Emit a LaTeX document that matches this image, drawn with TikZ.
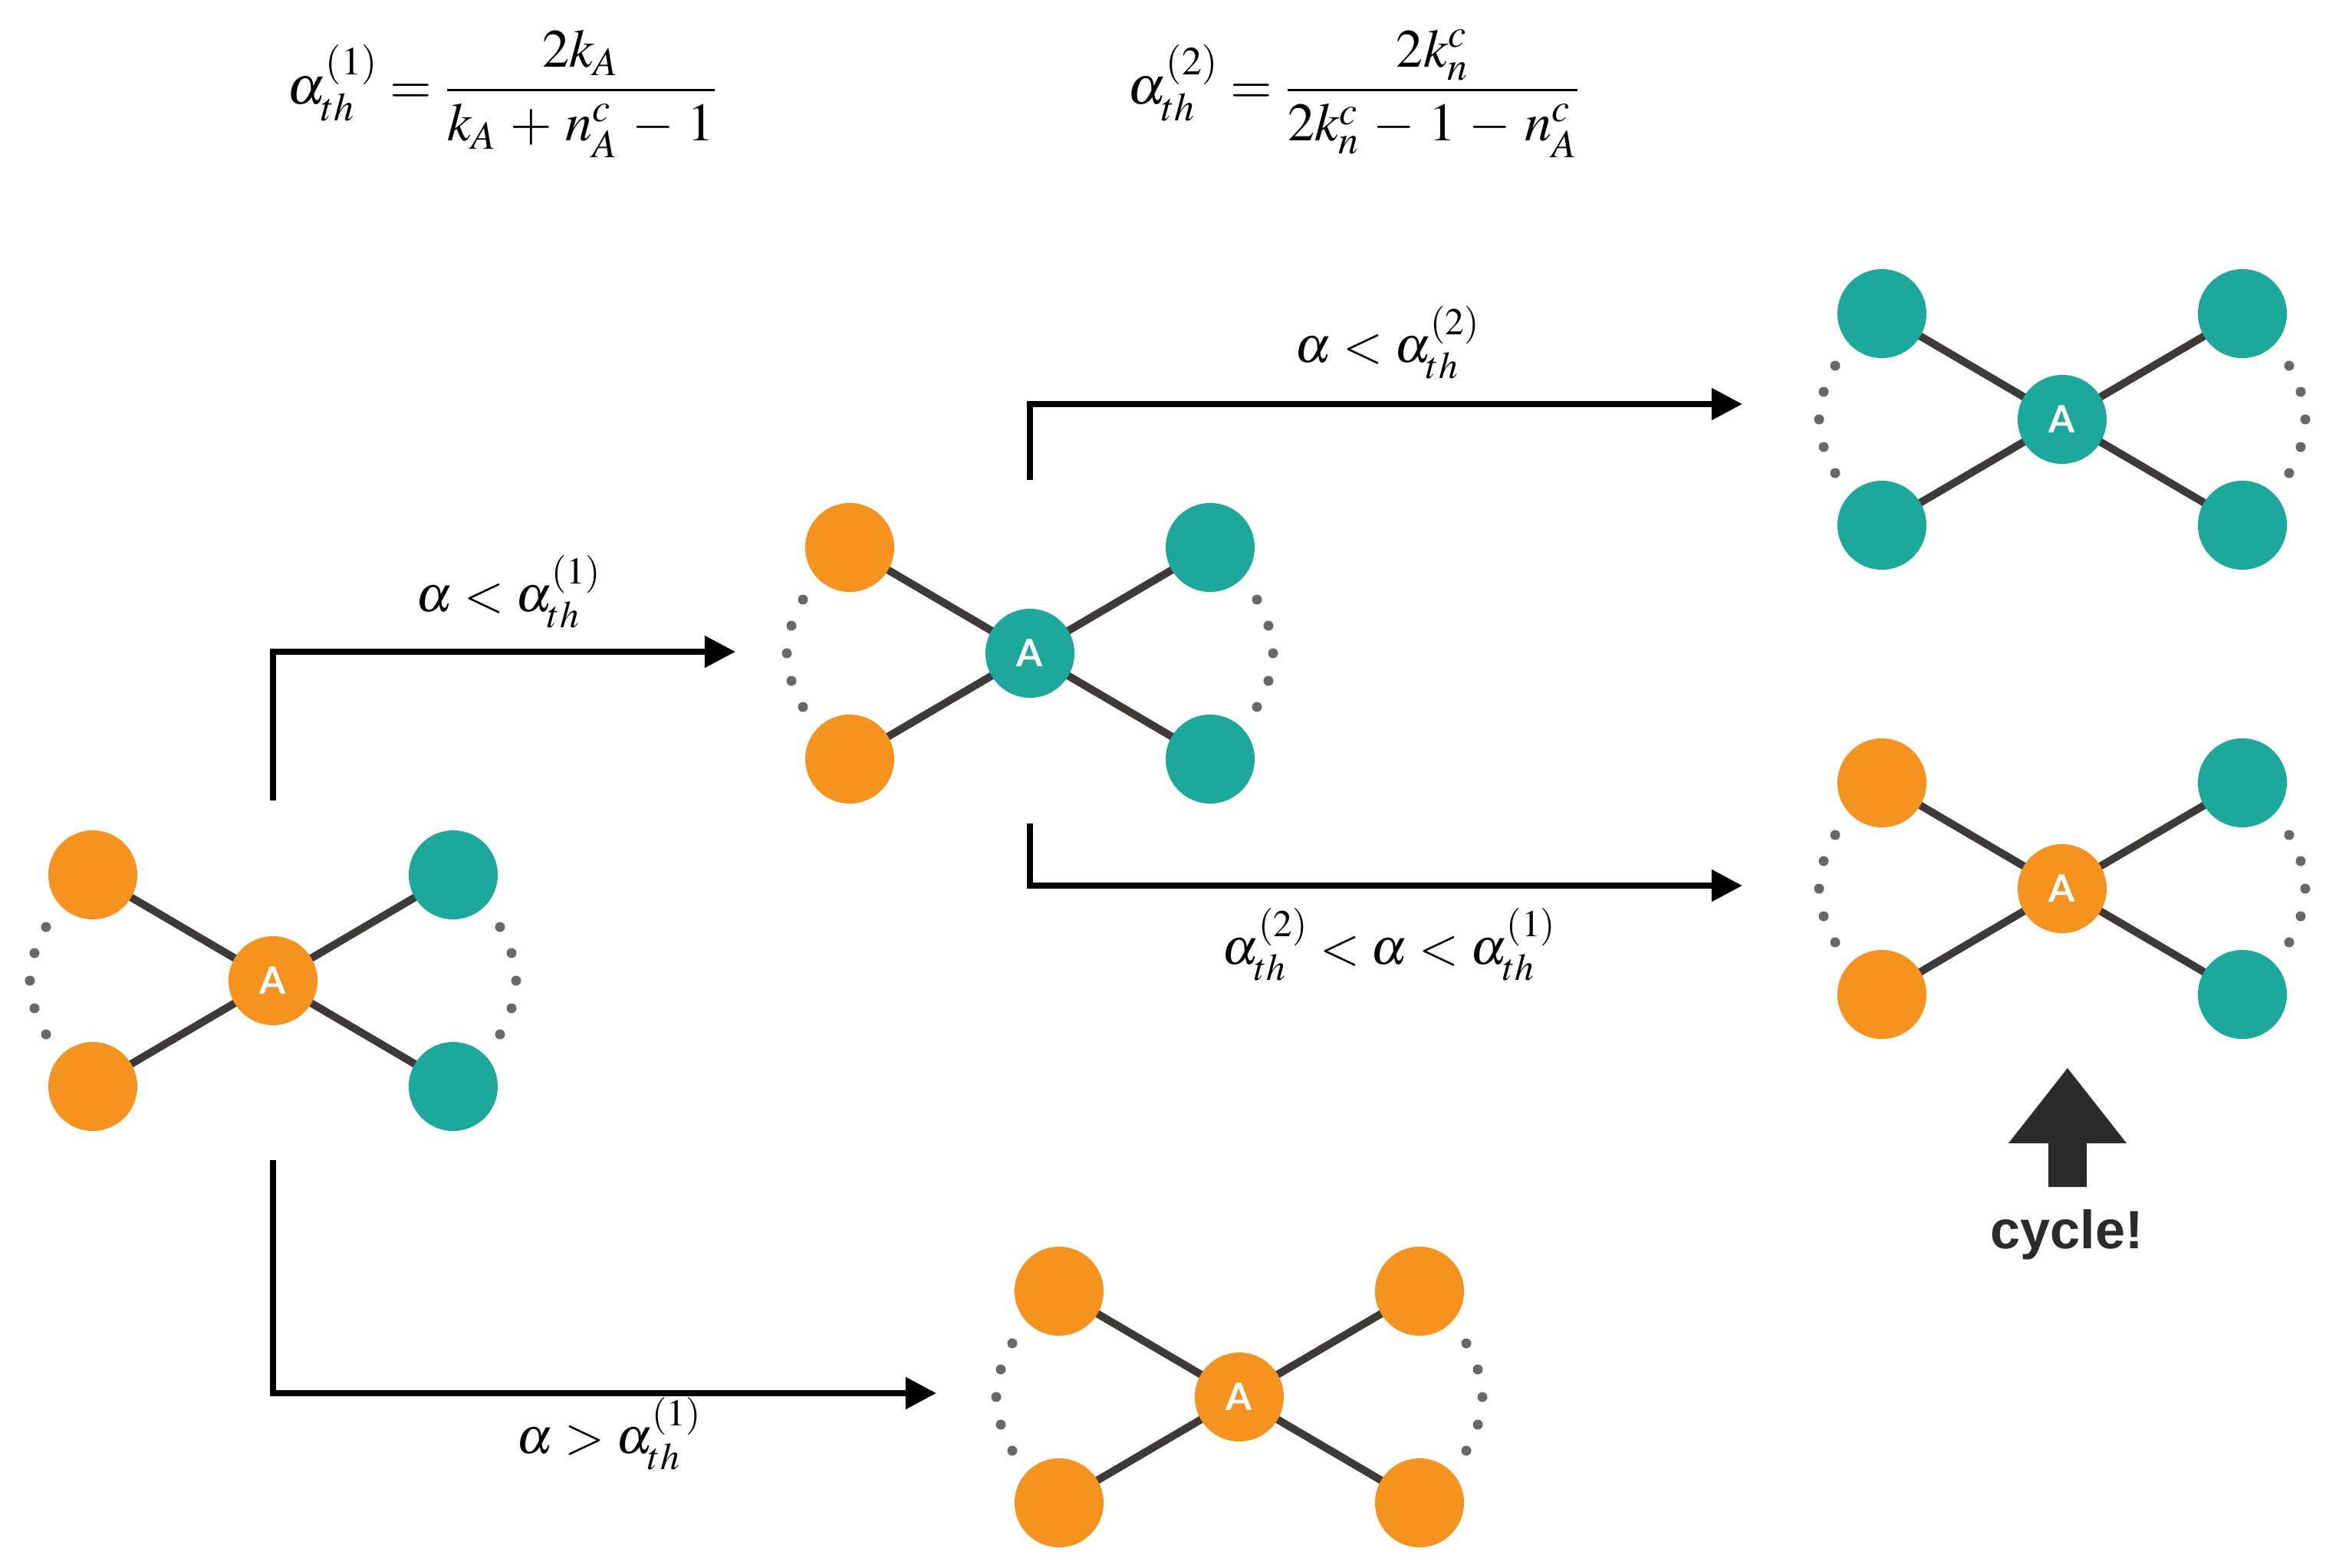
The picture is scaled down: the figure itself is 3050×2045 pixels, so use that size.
\documentclass[tikz,border=0pt]{standalone}
\usepackage{mathptmx}
\usepackage[no-math]{fontspec}
\newfontfamily\afont{Lato}
\newfontfamily\cfont{Liberation Sans}
\usetikzlibrary{arrows.meta,backgrounds}
\definecolor{nodeorange}{HTML}{F6931F}
\definecolor{nodeteal}{HTML}{1CA99B}
\definecolor{dotgray}{HTML}{6A6767}
\definecolor{edgegray}{HTML}{3E3A39}
\definecolor{cyclegray}{HTML}{2B2B2B}
\tikzset{
  vert/.style={circle, minimum size=1.16cm, inner sep=0pt, draw=none},
  hub/.style={vert, text=white, font=\afont\bfseries\fontsize{14}{14}\selectfont},
  edge/.style={line width=0.1cm, draw=edgegray},
  dotc/.style={circle, fill=dotgray, minimum size=0.13cm, inner sep=0pt},
  flow/.style={line width=0.08cm, -{Triangle[length=0.4cm,width=0.4cm]}},
  mathlbl/.style={inner sep=0pt, font=\fontsize{19}{23}\selectfont, anchor=base west},
  formula/.style={inner sep=0pt, font=\fontsize{20}{24}\selectfont, anchor=base west},
}
\newcommand\mkcluster[8]{%
  \node[vert, fill=#5] (#1tl) at (#2-235,#3-138) {};
  \node[vert, fill=#6] (#1tr) at (#2+235,#3-138) {};
  \node[vert, fill=#7] (#1bl) at (#2-235,#3+138) {};
  \node[vert, fill=#8] (#1br) at (#2+235,#3+138) {};
  \node[hub, fill=#4] (#1c) at (#2,#3) {A};
  \begin{scope}[on background layer]
    \foreach \k in {tl,tr,bl,br} \draw[edge] (#1c.center) -- (#1\k.center);
  \end{scope}
  \foreach \dx/\dy [count=\i] in {-296/-70,-311/-36,-317/0,-311/36,-296/70,296/-70,311/-36,317/0,311/36,296/70}
    \node[dotc] (#1d\i) at (#2+\dx,#3+\dy) {};
}
\begin{document}
\begin{tikzpicture}[x=0.01cm,y=-0.01cm]
\useasboundingbox (0,0) rectangle (3050,2045);

% formulas
\node[formula] (f1) at (374,135) {$\medmuskip=4.5mu\relax \alpha_{th}^{(1)} = \displaystyle\frac{2k_A}{k_A + n_A^c - 1}$};
\node[formula] (f2) at (1470,135) {$\medmuskip=4.5mu\relax \alpha_{th}^{(2)} = \displaystyle\frac{2k_n^c}{2k_n^c - 1 - n_A^c}$};

% clusters
\mkcluster{p}{356}{1279}{nodeorange}{nodeorange}{nodeteal}{nodeorange}{nodeteal}
\mkcluster{q}{1343}{852}{nodeteal}{nodeorange}{nodeteal}{nodeorange}{nodeteal}
\mkcluster{r}{2689}{547}{nodeteal}{nodeteal}{nodeteal}{nodeteal}{nodeteal}
\mkcluster{s}{2689}{1159}{nodeorange}{nodeorange}{nodeteal}{nodeorange}{nodeteal}
\mkcluster{u}{1616}{1822}{nodeorange}{nodeorange}{nodeorange}{nodeorange}{nodeorange}

% flow arrows
\coordinate (a1s) at (356,1044); \coordinate (a1e) at (959,850);
\coordinate (a2s) at (356,1513); \coordinate (a2e) at (1221,1817);
\coordinate (a3s) at (1343,626); \coordinate (a3e) at (2272,527);
\coordinate (a4s) at (1343,1074); \coordinate (a4e) at (2272,1155);
\draw[flow] (a1s) |- (a1e);
\draw[flow] (a2s) |- (a2e);
\draw[flow] (a3s) |- (a3e);
\draw[flow] (a4s) |- (a4e);

% arrow labels
\node[mathlbl] (l1) at (542,797) {$\alpha < \alpha_{th}^{(1)}$};
\node[mathlbl] (l2) at (673,1895) {$\alpha > \alpha_{th}^{(1)}$};
\node[mathlbl] (l3) at (1688,472) {$\alpha < \alpha_{th}^{(2)}$};
\node[mathlbl] (l4) at (1593,1257) {$\alpha_{th}^{(2)} < \alpha < \alpha_{th}^{(1)}$};

% cycle marker
\fill[cyclegray] (2696,1393) -- (2773,1491) -- (2721,1491) -- (2721,1548) -- (2671,1548) -- (2671,1491) -- (2619,1491) -- cycle;
\node[anchor=base, inner sep=0pt, text=cyclegray, font=\cfont\bfseries\fontsize{20}{24}\selectfont] (cyc) at (2695,1628) {cycle!};
\end{tikzpicture}
\end{document}
